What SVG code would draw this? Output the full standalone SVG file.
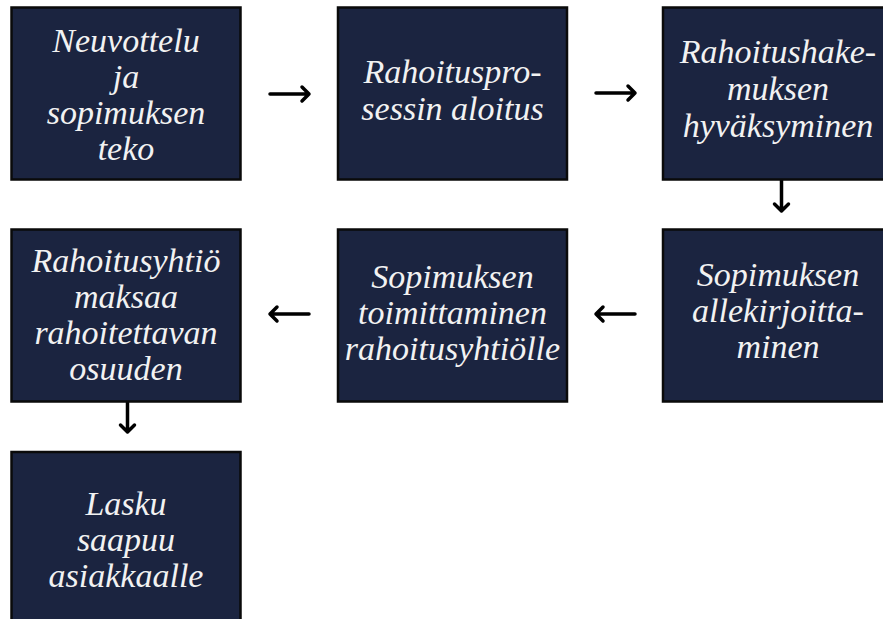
<svg xmlns="http://www.w3.org/2000/svg" width="883" height="619" viewBox="0 0 883 619">
<style>
.box{fill:#1b2440;stroke:#0a0a0a;stroke-width:2.5}
.t{font-family:"Liberation Serif","Times New Roman",serif;font-style:italic;font-size:34px;fill:#f2f2f2;text-anchor:middle}
.ar{fill:none;stroke:#000;stroke-width:3.5;stroke-linecap:round;stroke-linejoin:round}
</style>
<rect width="883" height="619" fill="#fff"/>
<g id="connectors">
<path class="ar" d="M270 94H309M302 87L309 94L302 101"/>
<path class="ar" d="M596 93H635M628 86L635 93L628 100"/>
<path class="ar" d="M781.5 180V211M774.5 204L781.5 211L788.5 204"/>
<path class="ar" d="M309 314H270M277 307L270 314L277 321"/>
<path class="ar" d="M635 314H596M603 307L596 314L603 321"/>
<path class="ar" d="M127.5 402V432M120.5 425L127.5 432L134.5 425"/>
</g>
<g id="n1"><rect class="box" x="11.5" y="7.5" width="229" height="172"/>
<text class="t" x="126" y="52">Neuvottelu</text><text class="t" x="126" y="88">ja</text><text class="t" x="126" y="124">sopimuksen</text><text class="t" x="126" y="160">teko</text></g>
<g id="n2"><rect class="box" x="338" y="7.5" width="229" height="172"/>
<text class="t" x="452.5" y="83">Rahoituspro-</text><text class="t" x="452.5" y="120">sessin aloitus</text></g>
<g id="n3"><rect class="box" x="663" y="7.5" width="229" height="172"/>
<text class="t" x="778" y="63">Rahoitushake-</text><text class="t" x="778" y="100">muksen</text><text class="t" x="778" y="137">hyväksyminen</text></g>
<g id="n4"><rect class="box" x="11.5" y="229.5" width="229" height="172"/>
<text class="t" x="126" y="272">Rahoitusyhtiö</text><text class="t" x="126" y="308">maksaa</text><text class="t" x="126" y="344">rahoitettavan</text><text class="t" x="126" y="380">osuuden</text></g>
<g id="n5"><rect class="box" x="338" y="229.5" width="229" height="172"/>
<text class="t" x="452.5" y="288">Sopimuksen</text><text class="t" x="452.5" y="324">toimittaminen</text><text class="t" x="452.5" y="360">rahoitusyhtiölle</text></g>
<g id="n6"><rect class="box" x="663" y="229.5" width="229" height="172"/>
<text class="t" x="778" y="286">Sopimuksen</text><text class="t" x="778" y="322">allekirjoitta-</text><text class="t" x="778" y="358">minen</text></g>
<g id="n7"><rect class="box" x="11.5" y="452" width="229" height="180"/>
<text class="t" x="126" y="515">Lasku</text><text class="t" x="126" y="551">saapuu</text><text class="t" x="126" y="587">asiakkaalle</text></g>
</svg>
